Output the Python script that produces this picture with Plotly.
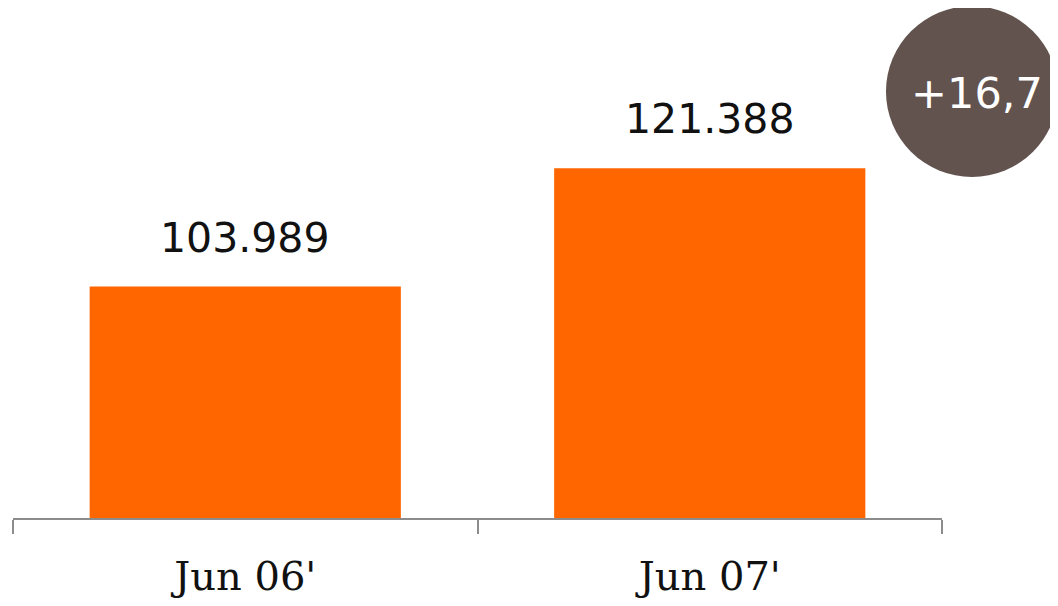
import plotly.graph_objects as go

categories = ["Jun 06'", "Jun 07'"]
values = [103989, 121388]
value_labels = ["103.989", "121.388"]

growth = (values[1] / values[0] - 1) * 100
growth_label = "+" + f"{growth:.1f}".replace(".", ",")

BAR_COLOR = "#FF6600"
CIRCLE_COLOR = "#63534E"
AXIS_COLOR = "#8C8C8C"

y_min = 70000
y_max = 144908

fig = go.Figure()
fig.add_trace(go.Bar(
    x=categories,
    y=values,
    marker=dict(color=BAR_COLOR, line=dict(width=0)),
    hoverinfo="skip",
))

for c, v, t in zip(categories, values, value_labels):
    fig.add_annotation(
        x=c, y=v, text=t, showarrow=False,
        xanchor="center", yanchor="bottom", yshift=23,
        font=dict(family="DejaVu Sans", size=41, color="#111111"),
    )

fig.add_shape(
    type="circle", xref="paper", yref="paper",
    x0=0.9397, x1=1.1249, y0=0.6686, y1=1.0039,
    fillcolor=CIRCLE_COLOR, line=dict(width=0), layer="above",
)
fig.add_annotation(
    xref="paper", yref="paper", x=1.0377, y=0.8333,
    text=growth_label, showarrow=False,
    xanchor="center", yanchor="middle",
    font=dict(family="DejaVu Sans", size=43, color="#FFFFFF"),
)

fig.update_layout(
    width=1058, height=606,
    margin=dict(l=5, r=124, t=0, b=96, pad=0),
    paper_bgcolor="white", plot_bgcolor="white",
    showlegend=False,
    bargap=0.33,
)
fig.update_xaxes(
    type="category",
    showline=True, linecolor=AXIS_COLOR, linewidth=2,
    ticks="outside", tickson="boundaries", ticklen=14, tickwidth=2, tickcolor=AXIS_COLOR,
    ticklabelstandoff=22,
    tickfont=dict(family="DejaVu Serif", size=40, color="#111111"),
    showgrid=False, zeroline=False,
)
fig.update_yaxes(
    range=[y_min, y_max], visible=False, showgrid=False, zeroline=False,
)

fig.write_html("out.html", config={"displayModeBar": False})
